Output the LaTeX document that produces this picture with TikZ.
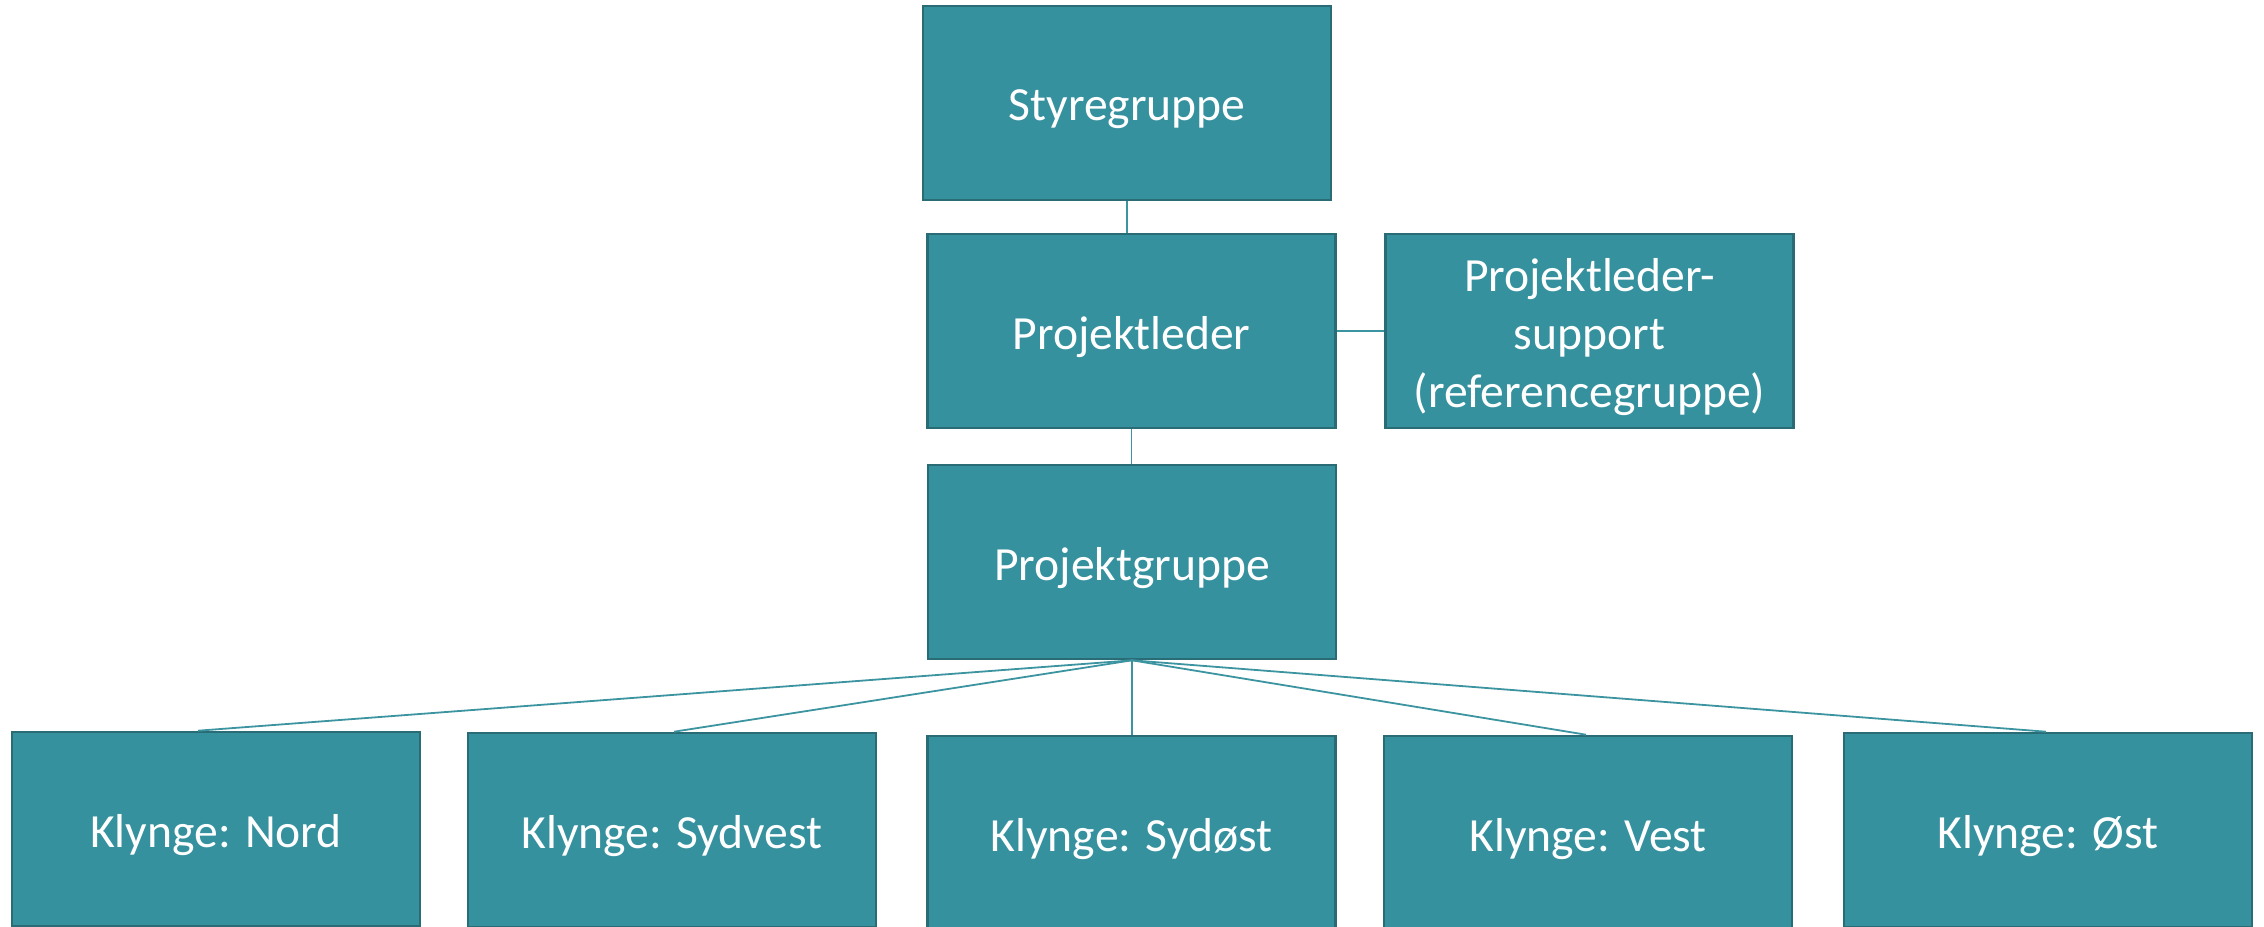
\documentclass[tikz,border=0pt]{standalone}
\usepackage{fontspec}
\setmainfont{Carlito}
\definecolor{boxfill}{RGB}{54,145,158}
\definecolor{boxedge}{RGB}{42,108,118}
\definecolor{linkcol}{RGB}{60,148,160}
\begin{document}
\begin{tikzpicture}[x=0.5pt,y=-0.5pt,
  orgbox/.style={draw=boxedge, line width=1.3pt, fill=boxfill,
    minimum width=204pt, minimum height=97pt, inner sep=0pt,
    label={[boxtext]center:#1}},
  boxtext/.style={text=white, align=center, yshift=-3pt, inner sep=0pt,
    font=\fontsize{23.8}{29}\selectfont},
  link/.style={draw=linkcol, line width=0.9pt}]
\useasboundingbox (0,0) rectangle (2264,926);
\node[orgbox=Styregruppe] (styre) at (1127,103) {};
\node[orgbox=Projektleder] (leder) at (1131.5,331) {};
\node[orgbox={Projektleder-\\support\\(referencegruppe)}] (support) at (1589.5,331) {};
\node[orgbox=Projektgruppe] (gruppe) at (1132,562) {};
\node[orgbox={Klynge: Nord}] (nord) at (216,829) {};
\node[orgbox={Klynge: Sydvest}] (sydvest) at (672,830) {};
\node[orgbox={Klynge: Sydøst}] (sydost) at (1131.5,833) {};
\node[orgbox={Klynge: Vest}] (vest) at (1588,833) {};
\node[orgbox={Klynge: Øst}] (ost) at (2048,830) {};
\draw[link] (styre.south) -- (styre.south |- leder.north);
\draw[link] (leder.south) -- (leder.south |- gruppe.north);
\draw[link] (leder.east) -- (support.west);
\draw[link] (gruppe.south) -- ([xshift=-9pt]nord.north);
\draw[link] (gruppe.south) -- ([xshift=1pt]sydvest.north);
\draw[link] (gruppe.south) -- (gruppe.south |- sydost.north);
\draw[link] (gruppe.south) -- ([xshift=-1pt]vest.north);
\draw[link] (gruppe.south) -- ([xshift=-1pt]ost.north);
\end{tikzpicture}
\end{document}
